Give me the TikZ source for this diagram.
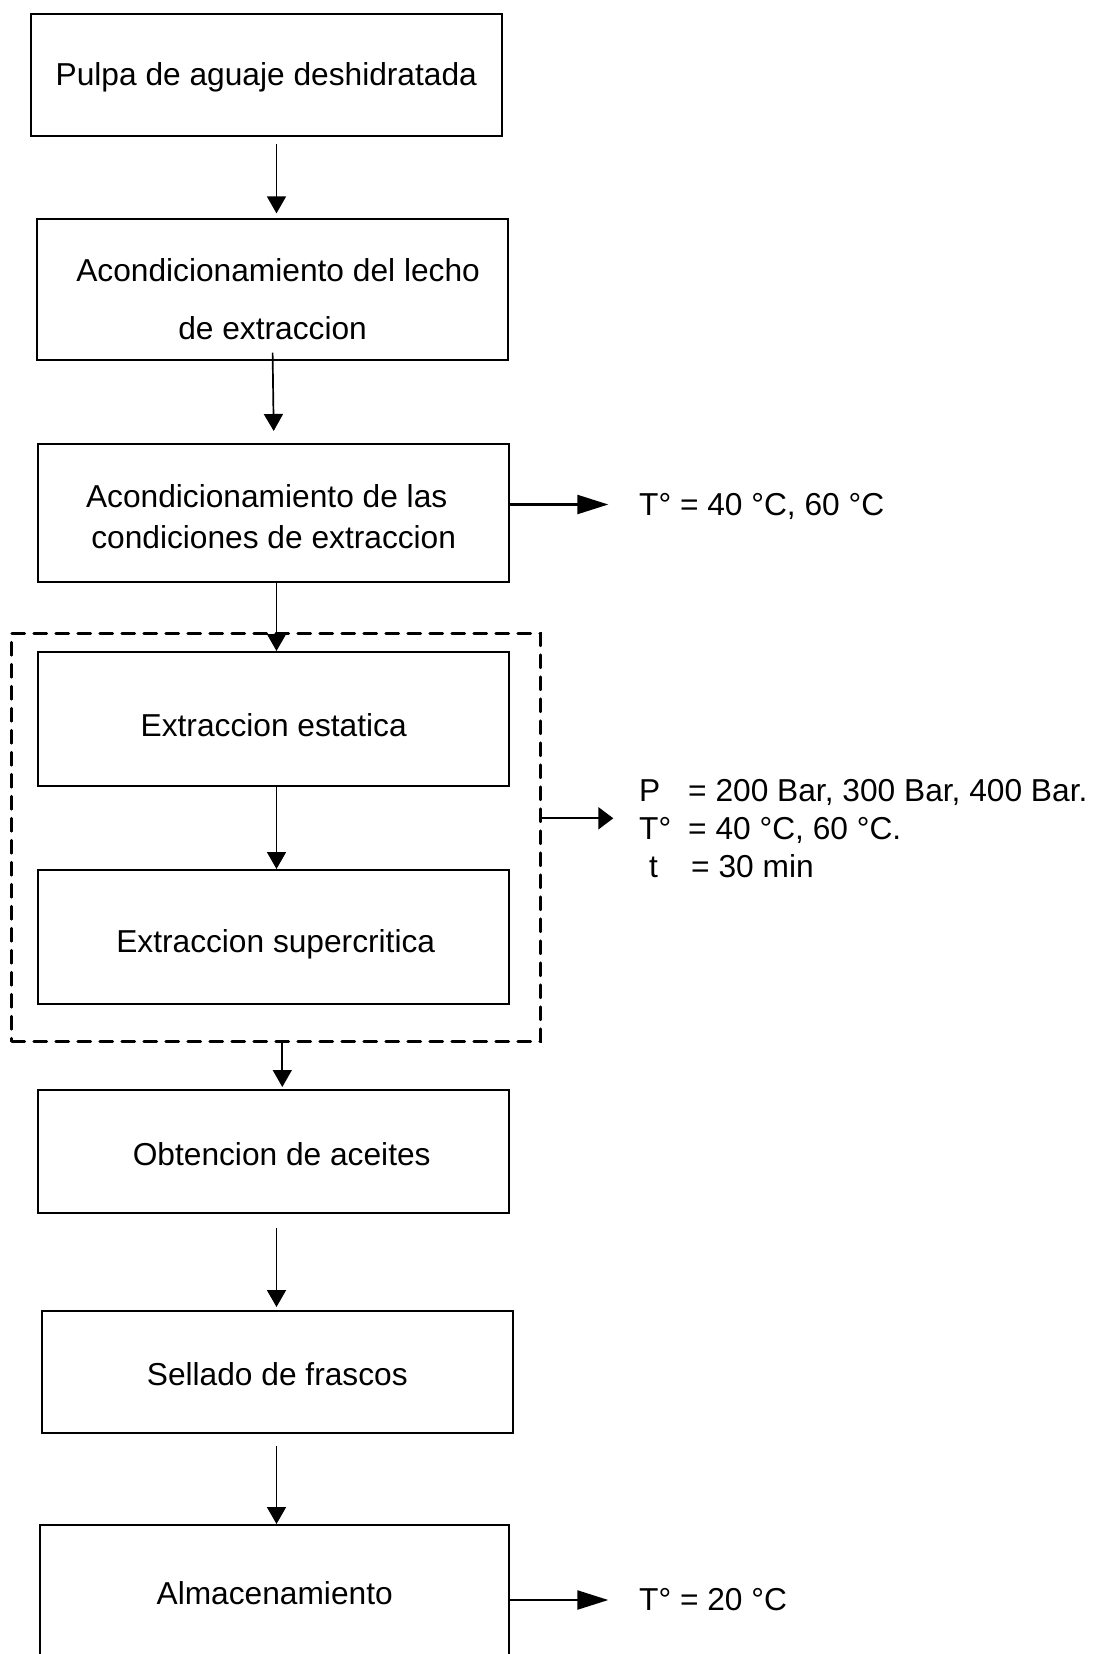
\documentclass[tikz,border=0pt]{standalone}
\usepackage{fontspec}
\setmainfont{Liberation Sans}
\usetikzlibrary{arrows.meta}
\begin{document}
\begin{tikzpicture}[x=1pt, y=-1pt,
  proc/.style={draw, line width=2pt, inner sep=0pt, align=center, font=\fontsize{31.7}{38}\selectfont},
  flow/.style={-{Triangle[length=17pt,width=19pt]}, line width=1.7pt},
  side/.style={-{Triangle[length=31pt,width=19pt]}, line width=2.3pt},
  cond/.style={anchor=west, inner sep=0pt, font=\fontsize{31.7}{38}\selectfont}]
  \useasboundingbox (0,0) rectangle (1098,1654);

  % process boxes
  \node[proc, minimum width=471.5pt, minimum height=122.4pt, text height=27pt, text depth=6.7pt] (pulpa) at (266.3,74.9) {Pulpa de aguaje deshidratada};
  \node[proc, minimum width=471.5pt, minimum height=140.3pt] (lecho) at (272.6,289.5) {\rule{0pt}{43pt}\hspace*{11pt}Acondicionamiento del lecho\\[20pt]de extraccion};
  \node[proc, minimum width=471.5pt, minimum height=138pt] (condic) at (273.7,513) {\rule{0pt}{31pt}Acondicionamiento de las\hspace*{14pt}\\[3pt]condiciones de extraccion};
  \node[proc, minimum width=471.5pt, minimum height=134pt, text height=34.7pt, text depth=0pt] (estat) at (273.7,719) {Extraccion estatica};
  \node[proc, minimum width=471.5pt, minimum height=134pt, text height=36.7pt, text depth=6.7pt] (super) at (273.7,937) {\hspace*{4pt}Extraccion supercritica};
  \node[proc, minimum width=471.5pt, minimum height=123pt, text height=27pt, text depth=0pt] (aceite) at (273.7,1151.5) {\hspace*{16pt}Obtencion de aceites};
  \node[proc, minimum width=470.6pt, minimum height=122pt, text height=27pt, text depth=0pt] (sellado) at (277.3,1372) {Sellado de frascos};
  \node[proc, minimum width=469.5pt, minimum height=136pt] (almac) at (274.7,1593) {Almacenamiento};

  % dashed group round the two extraction steps
  \node[draw, line width=2.7pt, line cap=round, dash pattern=on 13pt off 9pt, minimum width=528.5pt, minimum height=408pt] (grp) at (276,837.3) {};

  % conditions
  \node[cond] (tcond) at (639,506.5) {T° = 40 °C, 60 °C};
  \node[cond] (tgrp) at (639,832) {\begin{tabular}{@{}l@{\hspace{17pt}}l@{}}P & = 200 Bar, 300 Bar, 400 Bar.\\T° & = 40 °C, 60 °C.\\\hspace{10pt}t & \hspace{3pt}= 30 min\end{tabular}};
  \node[cond] (talm) at (639,1600) {T° = 20 °C};

  % main flow
  \coordinate (axis) at (276.5,0);
  \coordinate (axisb) at (282.3,0);
  \draw[flow] ([yshift=-7pt]pulpa.south -| axis) -- ([yshift=5pt]lecho.north -| axis);
  \draw[flow] ([yshift=8pt]lecho.south) -- ([yshift=12pt]condic.north);
  \draw[flow] (condic.south -| axis) -- (estat.north -| axis);
  \draw[flow] (estat.south -| axis) -- (super.north -| axis);
  \draw[flow] (grp.south -| axisb) -- ([yshift=2pt]aceite.north -| axisb);
  \draw[flow] ([yshift=-14pt]aceite.south -| axis) -- ([yshift=3pt]sellado.north -| axis);
  \draw[flow] ([yshift=-12pt]sellado.south -| axis) -- (almac.north -| axis);

  % side conditions
  \draw[side] ([yshift=2pt]condic.east |- tcond.west) -- ([xshift=-30.7pt,yshift=2pt]tcond.west);
  \draw[side, -{Triangle[length=15pt,width=22pt]}] ([yshift=19pt]grp.east) -- ([xshift=-25.7pt,yshift=13.7pt]tgrp.west);
  \draw[side] (almac.east |- talm.west) -- ([xshift=-30.7pt]talm.west);
\end{tikzpicture}
\end{document}
